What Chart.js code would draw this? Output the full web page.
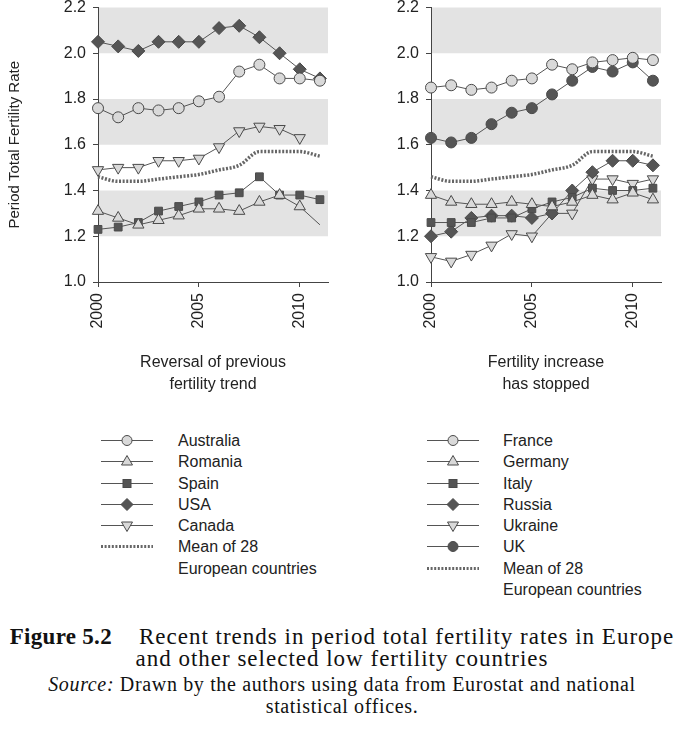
<!DOCTYPE html>
<html>
<head>
<meta charset="utf-8">
<script src="https://cdn.jsdelivr.net/npm/chart.js@4.4.1/dist/chart.umd.min.js"></script>
<style>
  body { margin: 0; background: #fff; width: 684px; height: 729px; position: relative; overflow: hidden;
         font-family: "Liberation Sans", Arial, sans-serif; color: #222; }
  canvas { position: absolute; top: 0; }
  #left { left: 0; }
  #right { left: 340px; }
  .leg { position: absolute; font-size: 16px; line-height: 21.3px; }
  .row { height: 21.3px; position: relative; white-space: nowrap; }
  .row svg { position: absolute; left: 0; top: 3px; }
  .row span { position: absolute; }
  .cap { position: absolute; left: 0; width: 684px; text-align: center; white-space: nowrap;
         font-family: "Liberation Serif", "Times New Roman", serif; color: #111; }
</style>
</head>
<body>
<canvas id="left" width="340" height="400"></canvas>
<canvas id="right" width="344" height="400"></canvas>
<div class="leg" id="legLeft" style="left:101px;top:430px"></div>
<div class="leg" id="legRight" style="left:427px;top:430px"></div>
<div class="cap" style="top:624px;font-size:23px;letter-spacing:1px"><b style="letter-spacing:0.3px">Figure 5.2</b>&nbsp;&nbsp;&nbsp; Recent trends in period total fertility rates in Europe</div>
<div class="cap" style="top:646px;font-size:23px;letter-spacing:1px">and other selected low fertility countries</div>
<div class="cap" style="top:673px;font-size:20px;letter-spacing:0.65px"><i>Source:</i> Drawn by the authors using data from Eurostat and national</div>
<div class="cap" style="top:695px;font-size:20px;letter-spacing:0.65px">statistical offices.</div>
<script>
const years = [2000, 2001, 2002, 2003, 2004, 2005, 2006, 2007, 2008, 2009, 2010, 2011];
const xTicks = [2000, 2005, 2010];
const yTicks = [1.0, 1.2, 1.4, 1.6, 1.8, 2.0, 2.2];
const bands = [[1.2, 1.4], [1.6, 1.8], [2.0, 2.2]];

// left panel: reversal of previous fertility trend
const australia = [1.76, 1.72, 1.76, 1.75, 1.76, 1.79, 1.81, 1.92, 1.95, 1.89, 1.89, 1.88];
const romania   = [1.31, 1.28, 1.25, 1.27, 1.29, 1.32, 1.32, 1.31, 1.35, 1.38, 1.33, 1.25];
const spain     = [1.23, 1.24, 1.26, 1.31, 1.33, 1.35, 1.38, 1.39, 1.46, 1.38, 1.38, 1.36];
const usa       = [2.05, 2.03, 2.01, 2.05, 2.05, 2.05, 2.11, 2.12, 2.07, 2.00, 1.93, 1.89];
const canada    = [1.49, 1.50, 1.50, 1.53, 1.53, 1.54, 1.59, 1.66, 1.68, 1.67, 1.63, null];
// mean of 28 European countries (both panels)
const mean28    = [1.46, 1.44, 1.44, 1.45, 1.46, 1.47, 1.49, 1.51, 1.57, 1.57, 1.57, 1.55];

// right panel: fertility increase has stopped
const france  = [1.85, 1.86, 1.84, 1.85, 1.88, 1.89, 1.95, 1.93, 1.96, 1.97, 1.98, 1.97];
const germany = [1.38, 1.35, 1.34, 1.34, 1.35, 1.34, 1.33, 1.35, 1.38, 1.36, 1.39, 1.36];
const italy   = [1.26, 1.26, 1.26, 1.28, 1.28, 1.32, 1.35, 1.37, 1.41, 1.40, 1.40, 1.41];
const russia  = [1.20, 1.22, 1.28, 1.29, 1.29, 1.28, 1.30, 1.40, 1.48, 1.53, 1.53, 1.51];
const ukraine = [1.11, 1.09, 1.12, 1.16, 1.21, 1.20, 1.30, 1.30, 1.45, 1.45, 1.43, 1.45];
const uk      = [1.63, 1.61, 1.63, 1.69, 1.74, 1.76, 1.82, 1.88, 1.94, 1.92, 1.96, 1.88];

const LINE = '#555', LIGHT = '#d9d9d9', DARK = '#555';

// marker styles: [pointStyle, radius, fill, rotation]
const styles = {
  circle:  ['circle', 5.5, LIGHT, 0],
  up:      ['triangle', 6.5, LIGHT, 0],
  square:  ['rect', 5.5, DARK, 0],
  diamond: ['rectRot', 6.5, DARK, 0],
  down:    ['triangle', 6.5, LIGHT, 180],
  dot:     ['circle', 5.5, DARK, 0]
};

function series(label, values, st, hideLast) {
  const [ps, r, fill, rot] = styles[st];
  return {
    label, data: years.map((x, i) => ({ x, y: values[i] })),
    borderColor: LINE, borderWidth: 1, tension: 0,
    pointStyle: ps, pointRotation: rot,
    // the last Romanian value is only shown as a line end in the source chart
    pointRadius: hideLast ? years.map((_, i) => i === years.length - 1 ? 0 : r) : r,
    pointBackgroundColor: fill, pointBorderColor: '#4a4a4a', pointBorderWidth: 1,
    clip: false, spanGaps: false
  };
}

function meanSeries() {
  return {
    label: 'Mean of 28 European countries', data: years.map((x, i) => ({ x, y: mean28[i] })),
    borderColor: '#666', borderWidth: 3.5, borderDash: [2, 1.6], borderCapStyle: 'butt',
    tension: 0.4, cubicInterpolationMode: 'monotone', pointRadius: 0, clip: false, order: 10
  };
}

const bandPlugin = {
  id: 'bands',
  beforeDraw(chart) {
    const { ctx, chartArea: a, scales: { y } } = chart;
    ctx.save();
    ctx.fillStyle = '#e3e3e3';
    bands.forEach(([lo, hi]) => {
      const t = y.getPixelForValue(hi), b = y.getPixelForValue(lo);
      ctx.fillRect(a.left, t, a.right - a.left, b - t);
    });
    ctx.restore();
  }
};

function makeChart(id, datasets, yWidth, padRight, yTitle, xTitle) {
  return new Chart(document.getElementById(id), {
    type: 'line',
    data: { datasets },
    plugins: [bandPlugin],
    options: {
      responsive: false, animation: false,
      layout: { padding: { top: 6, right: padRight, left: 0, bottom: 0 } },
      plugins: { legend: { display: false }, tooltip: { enabled: false } },
      scales: {
        x: {
          type: 'linear', min: 2000, max: 2011.4,
          afterBuildTicks: s => { s.ticks = xTicks.map(v => ({ value: v })); },
          afterFit: s => { s.height = 118; s.paddingLeft = 0; s.paddingRight = 0; },
          ticks: { autoSkip: false, minRotation: 90, maxRotation: 90, padding: 6, color: '#222',
                   font: { family: 'Liberation Sans', size: 16 }, callback: v => String(v) },
          grid: { drawOnChartArea: false, tickLength: 5, color: '#444' },
          border: { color: '#444' },
          title: { display: true, text: xTitle, color: '#222', padding: { bottom: 4 },
                   font: { family: 'Liberation Sans', size: 16, lineHeight: 1.375 } }
        },
        y: {
          min: 1.0, max: 2.2,
          afterBuildTicks: s => { s.ticks = yTicks.map(v => ({ value: v })); },
          afterFit: s => { s.width = yWidth; s.paddingTop = 0; s.paddingBottom = 0; },
          ticks: { padding: 7, color: '#222', font: { family: 'Liberation Sans', size: 16 },
                   callback: v => v.toFixed(1) },
          grid: { drawOnChartArea: false, tickLength: 5, color: '#444' },
          border: { color: '#444' },
          title: { display: yTitle, text: 'Period Total Fertility Rate', color: '#222', padding: { top: 6 },
                   font: { family: 'Liberation Sans', size: 15 } }
        }
      }
    }
  });
}

makeChart('left', [
  series('Australia', australia, 'circle'),
  series('Romania', romania, 'up', true),
  series('Spain', spain, 'square'),
  series('USA', usa, 'diamond'),
  series('Canada', canada, 'down'),
  meanSeries()
], 98, 12, true, ['Reversal of previous', 'fertility trend']);

makeChart('right', [
  series('France', france, 'circle'),
  series('Germany', germany, 'up'),
  series('Italy', italy, 'square'),
  series('Russia', russia, 'diamond'),
  series('Ukraine', ukraine, 'down'),
  series('UK', uk, 'dot'),
  meanSeries()
], 91, 23, false, ['Fertility increase', 'has stopped']);

// legends (swatch drawn as small svg)
function swatch(st) {
  const w = 52, c = 26, y = 7.5;
  if (st === 'mean') {
    return `<svg width="${w}" height="15"><line x1="0" y1="${y}" x2="${w}" y2="${y}" stroke="#666" stroke-width="3" stroke-dasharray="2 1.6"/></svg>`;
  }
  const [, r, fill] = styles[st];
  let m = '';
  if (st === 'circle' || st === 'dot') m = `<circle cx="${c}" cy="${y}" r="${r - 0.5}"/>`;
  else if (st === 'square') m = `<rect x="${c - 4}" y="${y - 4}" width="8" height="8"/>`;
  else if (st === 'diamond') m = `<polygon points="${c},${y - 6} ${c + 6},${y} ${c},${y + 6} ${c - 6},${y}"/>`;
  else if (st === 'up') m = `<polygon points="${c},${y - 6} ${c + 5.5},${y + 3.5} ${c - 5.5},${y + 3.5}"/>`;
  else if (st === 'down') m = `<polygon points="${c},${y + 6} ${c + 5.5},${y - 3.5} ${c - 5.5},${y - 3.5}"/>`;
  return `<svg width="${w}" height="15"><line x1="0" y1="${y}" x2="${w}" y2="${y}" stroke="#555" stroke-width="1"/>` +
         `<g fill="${fill}" stroke="#4a4a4a" stroke-width="1">${m}</g></svg>`;
}

function legend(id, items, textLeft) {
  const el = document.getElementById(id);
  items.forEach(([name, st]) => {
    const row = document.createElement('div');
    row.className = 'row';
    row.innerHTML = (st ? swatch(st) : '') + `<span style="left:${textLeft}px">${name}</span>`;
    el.appendChild(row);
  });
}

legend('legLeft', [
  ['Australia', 'circle'], ['Romania', 'up'], ['Spain', 'square'], ['USA', 'diamond'],
  ['Canada', 'down'], ['Mean of 28', 'mean'], ['European countries', null]
], 77);
legend('legRight', [
  ['France', 'circle'], ['Germany', 'up'], ['Italy', 'square'], ['Russia', 'diamond'],
  ['Ukraine', 'down'], ['UK', 'dot'], ['Mean of 28', 'mean'], ['European countries', null]
], 76);
</script>
</body>
</html>
